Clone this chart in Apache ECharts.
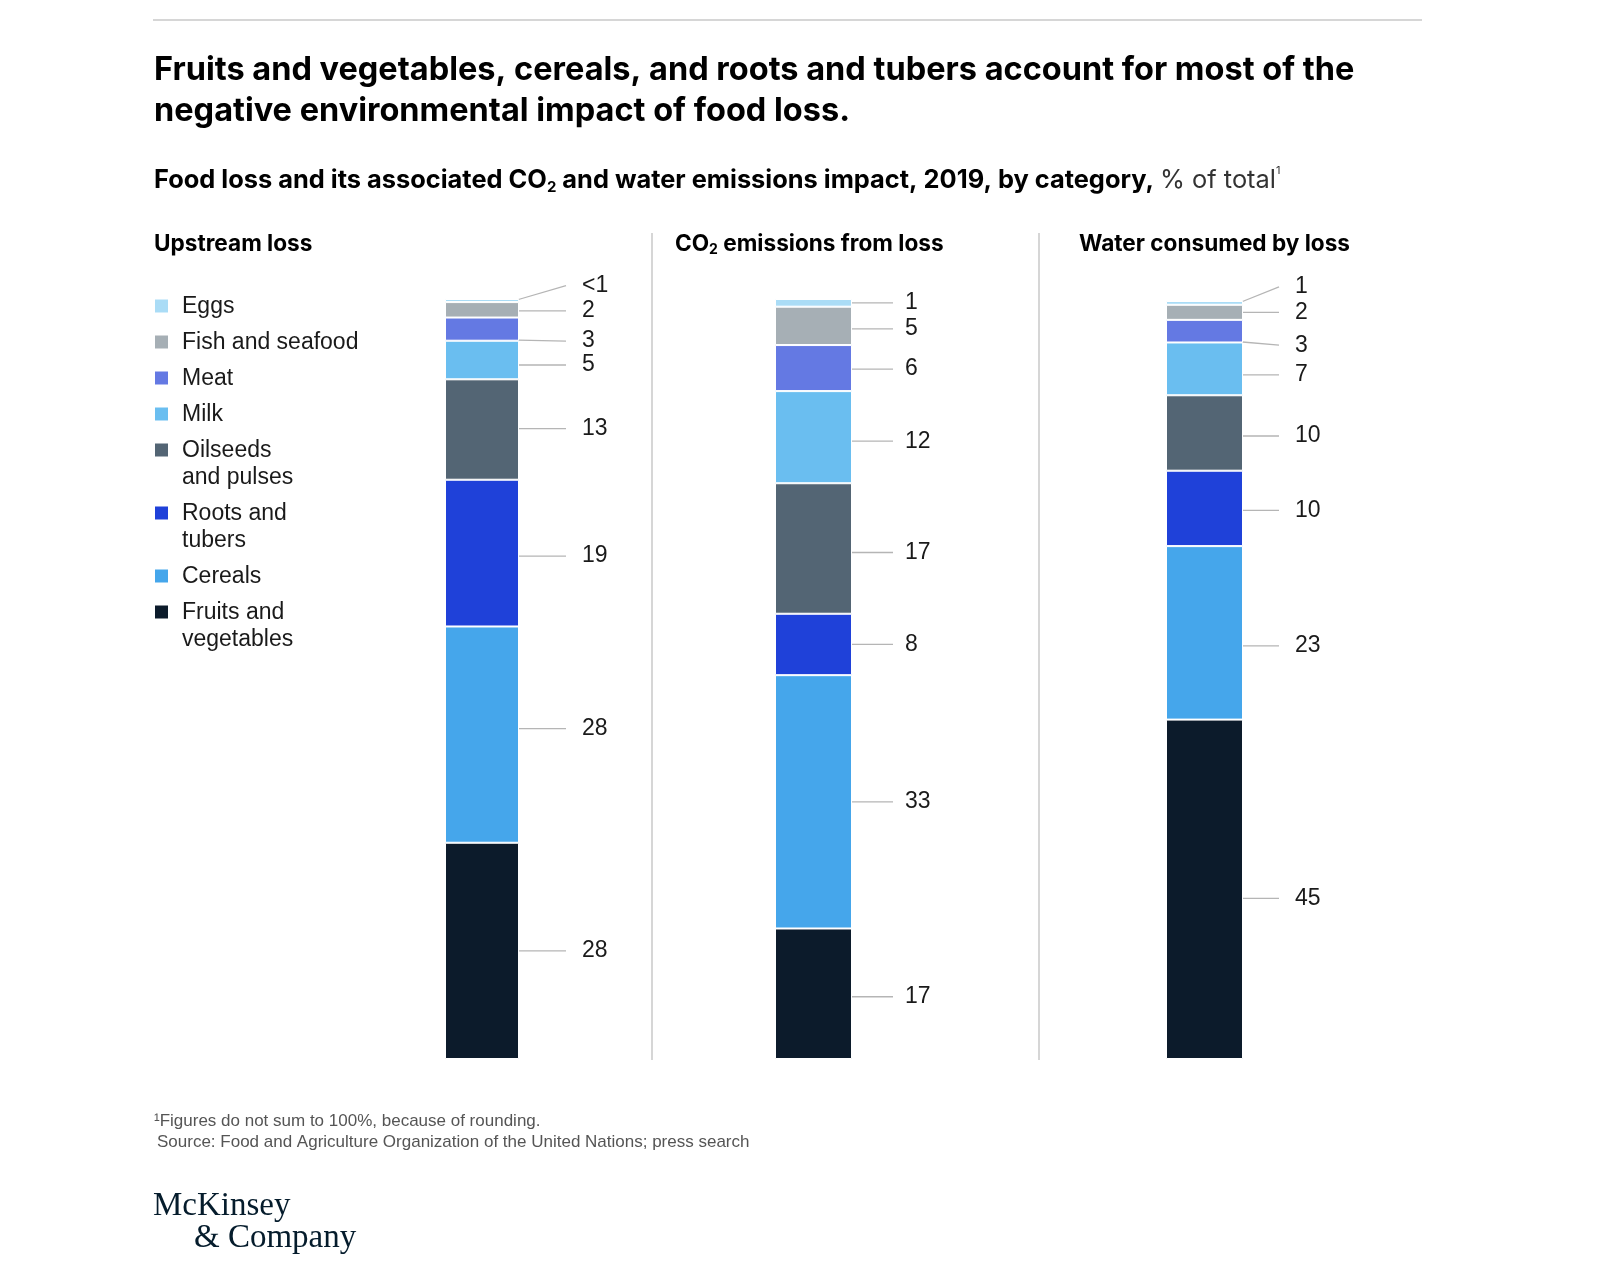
<!DOCTYPE html>
<html>
<head>
<meta charset="utf-8">
<script src="https://cdn.jsdelivr.net/npm/echarts@6/dist/echarts.min.js"></script>
<style>
html, body { margin: 0; padding: 0; background: #fff; }
#main { width: 1602px; height: 1272px; }
</style>
</head>
<body>
<div id="main"></div>
<script>
// categories, top of the bar to bottom (same order as the legend)
var categories = ['Eggs', 'Fish and seafood', 'Meat', 'Milk', 'Oilseeds and pulses', 'Roots and tubers', 'Cereals', 'Fruits and vegetables'];
var legendLabels = ['Eggs', 'Fish and seafood', 'Meat', 'Milk', 'Oilseeds\nand pulses', 'Roots and\ntubers', 'Cereals', 'Fruits and\nvegetables'];

// % of total
var upstreamLoss = [0.4, 2, 3, 5, 13, 19, 28, 28];
var co2Emissions = [1, 5, 6, 12, 17, 8, 33, 17];
var waterConsumed = [0.5, 2, 3, 7, 10, 10, 23, 45];

// printed labels
var upstreamLabels = ['<1', '2', '3', '5', '13', '19', '28', '28'];
var co2Labels = ['1', '5', '6', '12', '17', '8', '33', '17'];
var waterLabels = ['1', '2', '3', '7', '10', '10', '23', '45'];

var colors = ['#aadcf6', '#a6afb5', '#6479e3', '#6abef0', '#536574', '#1f41d9', '#45a6eb', '#0c1b2b'];
var FONT = 'Liberation Sans';
var HEAD = 'Inter';

// bar placement per panel + label leader lengths
var panelBox = [
  { left: 445, width: 74, top: 299, line: 47, gap: 16 },
  { left: 775, width: 77, top: 299, line: 41, gap: 12 },
  { left: 1166, width: 77, top: 301, line: 36, gap: 16 }
];
// vertical nudges of the labels (px)
var labelShift = [
  [-15, 1, 12, 5, -1, 3, -6, 0],
  [0, 3, 1, 4, 4, 0, 0, 3],
  [-16, 0, 14, 6, 3, 2, 13, 9]
];

var panelData = [upstreamLoss, co2Emissions, waterConsumed];
var panelLabels = [upstreamLabels, co2Labels, waterLabels];

var grids = [], xAxes = [], yAxes = [], series = [];
panelData.forEach(function (vals, p) {
  var total = vals.reduce(function (a, b) { return a + b; }, 0);
  grids.push({ left: panelBox[p].left, width: panelBox[p].width, top: panelBox[p].top, bottom: 213 });
  xAxes.push({ type: 'category', gridIndex: p, data: ['x'], show: false });
  yAxes.push({ type: 'value', gridIndex: p, min: 0, max: total, show: false });
  for (var i = categories.length - 1; i >= 0; i--) {
    series.push({
      type: 'bar',
      name: categories[i],
      xAxisIndex: p,
      yAxisIndex: p,
      stack: 'panel' + p,
      barWidth: '100%',
      data: [vals[i]],
      itemStyle: { color: colors[i], borderColor: '#ffffff', borderWidth: 1 },
      label: {
        show: true,
        position: 'right',
        distance: panelBox[p].line,
        formatter: panelLabels[p][i],
        padding: [0, 0, 0, panelBox[p].gap],
        backgroundColor: 'rgba(255,255,255,0)',
        fontFamily: FONT,
        fontSize: 23,
        color: '#1a1a1a'
      },
      labelLine: { show: true, lineStyle: { color: '#b5b5b5', width: 1.3 } },
      labelLayout: { dy: labelShift[p][i] }
    });
  }
});

// legend drawn by hand so the square sits on the first line of wrapped names
var legendItems = [];
var ly = 307;
legendLabels.forEach(function (name, i) {
  legendItems.push({
    type: 'rect', shape: { x: 155, y: ly - 7.5, width: 13, height: 13 },
    style: { fill: colors[i] }
  });
  legendItems.push({
    type: 'text', x: 182, y: ly - 13.5,
    style: { text: name, font: '23px "' + FONT + '"', fill: '#1a1a1a', lineHeight: 27, verticalAlign: 'top' }
  });
  ly += 36 + (name.split('\n').length - 1) * 27;
});

var chart = echarts.init(document.getElementById('main'));
chart.setOption({
  animation: false,
  backgroundColor: '#fff',
  title: [
    {
      text: 'Fruits and vegetables, cereals, and roots and tubers account for most of the\nnegative environmental impact of food loss.',
      left: 154, top: 50, padding: 0,
      textStyle: { fontFamily: HEAD, fontSize: 32.5, fontWeight: 'bold', lineHeight: 41, color: '#000' }
    },
    {
      text: '{b|Food loss and its associated CO}{s|2}{b| and water emissions impact, 2019, by category, }{r|% of total}{u|1}',
      left: 154, top: 165, padding: 0,
      textStyle: {
        rich: {
          b: { fontFamily: HEAD, fontSize: 25.4, fontWeight: 'bold', lineHeight: 30, color: '#000' },
          s: { fontFamily: HEAD, fontSize: 15, fontWeight: 'bold', lineHeight: 16, verticalAlign: 'bottom', color: '#000' },
          r: { fontFamily: HEAD, fontSize: 25.4, fontWeight: 'normal', lineHeight: 30, color: '#333' },
          u: { fontFamily: HEAD, fontSize: 11, fontWeight: 'normal', lineHeight: 16, verticalAlign: 'top', color: '#333' }
        }
      }
    },
    {
      text: 'Upstream loss', left: 154, top: 231, padding: 0,
      textStyle: { fontFamily: HEAD, fontSize: 22.6, fontWeight: 'bold', lineHeight: 26, color: '#000' }
    },
    {
      text: '{h|CO}{s|2}{h| emissions from loss}', left: 675, top: 231, padding: 0,
      textStyle: {
        rich: {
          h: { fontFamily: HEAD, fontSize: 22.6, fontWeight: 'bold', lineHeight: 26, color: '#000' },
          s: { fontFamily: HEAD, fontSize: 14, fontWeight: 'bold', lineHeight: 14, verticalAlign: 'bottom', color: '#000' }
        }
      }
    },
    {
      text: 'Water consumed by loss', left: 1079, top: 231, padding: 0,
      textStyle: { fontFamily: HEAD, fontSize: 22.6, fontWeight: 'bold', lineHeight: 26, color: '#000' }
    }
  ],
  grid: grids,
  xAxis: xAxes,
  yAxis: yAxes,
  series: series,
  graphic: [
    { type: 'line', shape: { x1: 153, y1: 20, x2: 1422, y2: 20 }, style: { stroke: '#c8c8c8', lineWidth: 1.5 } },
    { type: 'line', shape: { x1: 652, y1: 233, x2: 652, y2: 1060 }, style: { stroke: '#c8c8c8', lineWidth: 1.5 } },
    { type: 'line', shape: { x1: 1039, y1: 233, x2: 1039, y2: 1060 }, style: { stroke: '#c8c8c8', lineWidth: 1.5 } },
    {
      type: 'text', x: 154, y: 1113,
      style: { text: '¹Figures do not sum to 100%, because of rounding.', font: '17px "' + FONT + '"', fill: '#555' }
    },
    {
      type: 'text', x: 157, y: 1134,
      style: { text: 'Source: Food and Agriculture Organization of the United Nations; press search', font: '17px "' + FONT + '"', fill: '#555' }
    },
    {
      type: 'text', x: 153, y: 1190,
      style: { text: 'McKinsey', font: '33px "Liberation Serif"', fill: '#051c2c' }
    },
    {
      type: 'text', x: 194, y: 1222,
      style: { text: '& Company', font: '33px "Liberation Serif"', fill: '#051c2c' }
    }
  ].concat(legendItems)
});
</script>
</body>
</html>
